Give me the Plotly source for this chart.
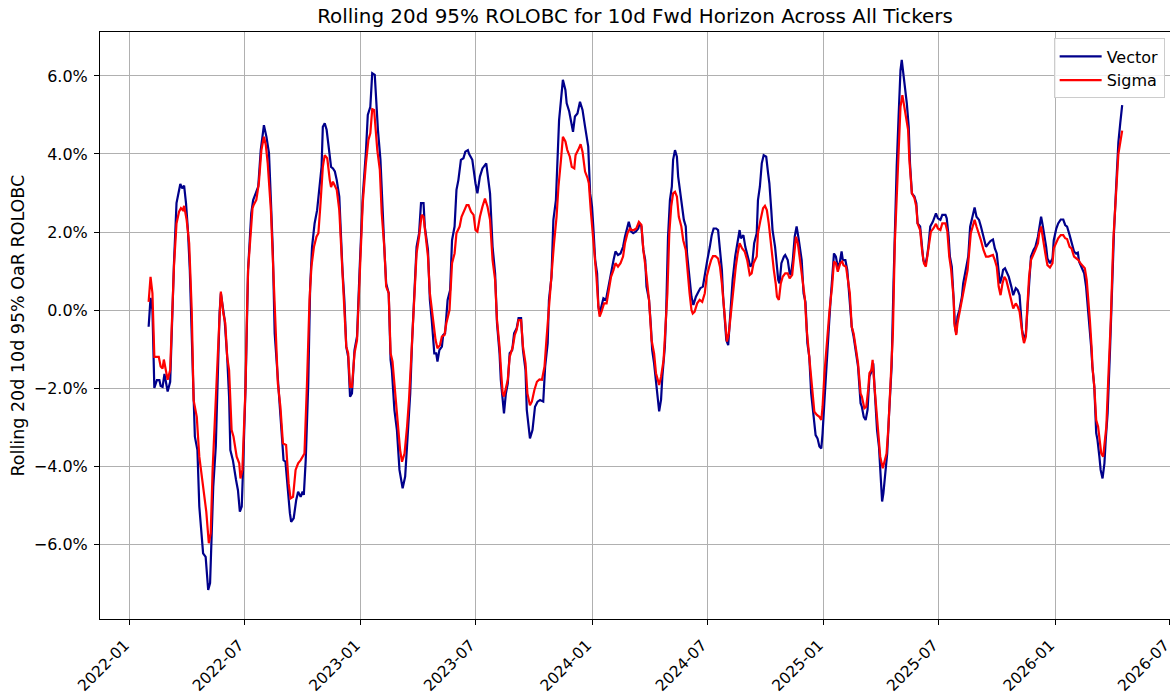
import pandas as pd
import plotly.graph_objects as go

# ---------------- data ----------------
base_date = "2022-01-01"  # day offsets below are counted from this date

vector_days = [
    30, 33, 36, 39, 43, 47, 49, 52, 55, 57,
    60, 64, 67, 70, 74, 78, 80, 83, 86, 89,
    92, 95, 98, 100, 103, 107, 110, 113, 116, 120,
    124, 127, 129, 132, 136, 139, 142, 144, 147, 150,
    154, 157, 159, 163, 168, 171, 174, 177, 179, 183,
    187, 192, 195, 199, 203, 207, 210, 212, 216, 220,
    223, 226, 229, 232, 236, 240, 243, 246, 250, 253,
    255, 259, 263, 266, 270, 273, 275, 278, 282, 285,
    288, 292, 296, 300, 303, 305, 308, 311, 315, 318,
    321, 324, 327, 331, 336, 339, 342, 345, 348, 351,
    355, 359, 363, 368, 373, 376, 380, 383, 387, 389,
    392, 396, 399, 402, 405, 409, 412, 414, 418, 422,
    426, 429, 431, 435, 439, 443, 446, 450, 453, 457,
    460, 464, 466, 471, 474, 477, 481, 484, 486, 489,
    493, 495, 498, 502, 506, 509, 513, 516, 519, 523,
    527, 530, 534, 536, 541, 546, 549, 553, 557, 563,
    566, 569, 573, 577, 580, 584, 586, 589, 591, 594,
    597, 600, 604, 607, 611, 614, 618, 621, 625, 627,
    630, 632, 636, 640, 644, 648, 653, 656, 660, 662,
    666, 669, 673, 676, 678, 681, 684, 688, 690, 694,
    697, 700, 703, 707, 711, 715, 719, 722, 724, 727,
    730, 732, 735, 738, 740, 742, 745, 748, 752, 755,
    758, 761, 764, 767, 771, 775, 779, 782, 785, 788,
    792, 795, 799, 803, 805, 808, 811, 814, 816, 820,
    823, 825, 828, 831, 834, 836, 839, 841, 845, 847,
    850, 853, 856, 858, 861, 864, 866, 869, 872, 875,
    878, 880, 883, 887, 890, 894, 898, 901, 905, 908,
    912, 916, 919, 922, 926, 929, 932, 935, 937, 940,
    942, 945, 947, 950, 952, 956, 959, 963, 965, 969,
    972, 976, 980, 983, 986, 990, 992, 995, 998, 1001,
    1005, 1008, 1010, 1013, 1015, 1019, 1021, 1024, 1026, 1029,
    1033, 1035, 1039, 1042, 1044, 1047, 1050, 1053, 1056, 1061,
    1064, 1067, 1070, 1073, 1076, 1080, 1083, 1086, 1089, 1092,
    1094, 1097, 1101, 1104, 1107, 1112, 1115, 1118, 1121, 1124,
    1126, 1130, 1133, 1136, 1140, 1143, 1147, 1150, 1154, 1156,
    1159, 1162, 1165, 1168, 1171, 1174, 1176, 1180, 1183, 1185,
    1188, 1190, 1193, 1196, 1199, 1203, 1206, 1209, 1211, 1214,
    1217, 1219, 1222, 1225, 1227, 1230, 1232, 1235, 1239, 1242,
    1244, 1248, 1251, 1253, 1256, 1259, 1261, 1264, 1268, 1271,
    1273, 1276, 1280, 1283, 1288, 1290, 1293, 1295, 1298, 1301,
    1303, 1305, 1307, 1310, 1314, 1316, 1319, 1322, 1324, 1327,
    1330, 1332, 1334, 1337, 1341, 1344, 1348, 1352, 1356, 1359,
    1363, 1366, 1369, 1372, 1374, 1377, 1379, 1382, 1385, 1388,
    1392, 1395, 1399, 1402, 1405, 1407, 1409, 1412, 1415, 1417,
    1420, 1423, 1427, 1430, 1434, 1436, 1439, 1441, 1444, 1447,
    1449, 1453, 1457, 1459, 1463, 1466, 1470, 1474, 1477, 1480,
    1484, 1487, 1491, 1494, 1497, 1499, 1503, 1507, 1510, 1512,
    1515, 1518, 1520, 1523, 1526, 1528, 1531, 1533, 1536, 1539,
    1541, 1544, 1548, 1551, 1554, 1558, 1561, 1564, 1567,
]
vector_vals = [
    -0.43, 0.31, 0.0, -2.0, -1.8, -1.8, -1.95, -1.97, -1.64, -1.87,
    -2.09, -1.84, 0.0, 1.2, 2.74, 3.08, 3.23, 3.12, 3.19, 2.74,
    2.05, 1.03, -0.34, -1.71, -3.25, -3.59, -5.04, -5.56, -6.24, -6.33,
    -7.18, -7.0, -5.98, -4.53, -3.5, -1.71, -0.08, 0.43, 0.0, -0.26,
    -1.2, -2.22, -3.59, -3.85, -4.36, -4.62, -5.17, -5.04, -4.1, -1.97,
    1.03, 2.48, 2.82, 2.99, 3.16, 4.1, 4.53, 4.74, 4.44, 4.02,
    2.82, 1.54, -0.6, -1.28, -2.31, -2.99, -3.85, -3.89, -4.7, -5.21,
    -5.43, -5.34, -4.87, -4.66, -4.79, -4.66, -4.74, -3.85, -1.88, 0.6,
    1.62, 2.22, 2.56, 3.16, 3.67, 4.7, 4.79, 4.62, 4.1, 3.67,
    3.63, 3.55, 3.33, 2.91, 1.03, 0.26, -0.94, -1.2, -2.22, -2.14,
    -1.03, -0.68, 1.0, 2.9, 4.05, 5.0, 5.21, 6.07, 6.03, 5.3,
    4.62, 3.85, 2.56, 1.62, 0.68, 0.43, -1.28, -1.54, -2.56, -3.08,
    -4.1, -4.36, -4.57, -4.27, -3.16, -2.14, -0.77, 0.43, 1.62, 1.97,
    2.74, 2.74, 2.14, 1.54, 0.26, -0.26, -1.11, -1.11, -1.32, -1.03,
    -0.94, -0.64, -0.6, 0.26, 0.51, 1.79, 2.14, 3.08, 3.33, 3.85,
    3.89, 4.06, 4.1, 4.0, 3.85, 3.25, 2.99, 3.42, 3.63, 3.76,
    3.33, 2.99, 1.62, 0.94, -0.34, -1.11, -1.79, -2.39, -2.65, -2.14,
    -1.88, -1.11, -1.03, -0.6, -0.47, -0.21, -0.21, -1.03, -1.54, -2.56,
    -3.08, -3.29, -3.08, -2.48, -2.35, -2.31, -2.35, -1.45, -0.85, 0.26,
    0.85, 2.31, 2.82, 3.85, 4.87, 5.38, 5.9, 5.64, 5.3, 5.09,
    4.79, 4.57, 4.96, 5.04, 5.34, 5.13, 4.7, 4.36, 4.19, 2.99,
    2.65, 2.14, 1.28, 0.94, 0.09, -0.09, 0.09, 0.3, 0.26, 0.51,
    0.77, 1.11, 1.28, 1.5, 1.41, 1.45, 1.62, 1.88, 2.05, 2.26,
    2.01, 1.97, 2.01, 2.09, 2.22, 2.14, 1.54, 1.28, 0.6, 0.26,
    -0.43, -1.03, -1.37, -1.88, -2.3, -2.6, -2.3, -1.71, -0.94, -0.09,
    1.88, 2.82, 3.16, 3.85, 4.1, 3.93, 3.42, 3.08, 2.65, 2.31,
    2.14, 1.45, 0.97, 0.34, 0.13, 0.34, 0.47, 0.56, 0.6, 0.85,
    1.28, 1.62, 1.92, 2.09, 2.09, 2.05, 1.62, 1.03, 0.34, -0.26,
    -0.77, -0.9, -0.43, 0.26, 0.77, 1.37, 1.71, 2.05, 1.84, 1.92,
    1.62, 1.37, 1.11, 1.2, 1.71, 1.97, 2.82, 3.16, 3.76, 3.97,
    3.93, 3.5, 3.25, 2.56, 2.05, 1.62, 1.2, 0.77, 0.68, 1.2,
    1.37, 1.41, 1.28, 0.94, 0.9, 1.28, 1.88, 2.14, 1.85, 1.28,
    0.43, 0.2, -0.85, -1.2, -2.14, -2.74, -3.21, -3.29, -3.5, -3.55,
    -3.16, -2.31, -1.37, -0.43, 0.34, 1.45, 1.37, 1.11, 1.2, 1.5,
    1.28, 1.28, 1.03, 0.43, -0.43, -0.68, -1.2, -1.45, -2.39, -2.48,
    -2.74, -2.82, -2.56, -1.71, -1.58, -1.37, -1.97, -3.08, -3.5, -4.19,
    -4.91, -4.7, -4.27, -3.68, -2.65, -1.45, 0.68, 2.82, 3.67, 4.96,
    6.15, 6.41, 5.98, 5.64, 5.3, 4.7, 3.76, 2.99, 2.91, 2.74,
    2.22, 2.14, 1.54, 1.28, 1.15, 1.37, 1.62, 2.14, 2.26, 2.39,
    2.48, 2.35, 2.31, 2.44, 2.44, 2.35, 1.88, 1.37, 1.11, 0.26,
    -0.43, -0.6, -0.17, 0.0, 0.34, 0.68, 0.94, 1.2, 1.37, 2.14,
    2.39, 2.48, 2.63, 2.39, 2.31, 2.14, 1.88, 1.62, 1.71, 1.77,
    1.81, 1.58, 1.45, 0.94, 0.68, 0.85, 1.03, 1.07, 0.98, 0.85,
    0.6, 0.38, 0.56, 0.51, 0.38, 0.0, -0.51, -0.77, -0.6, -0.09,
    0.77, 1.37, 1.54, 1.62, 1.88, 2.14, 2.39, 2.22, 1.97, 1.62,
    1.32, 1.2, 1.32, 1.79, 2.09, 2.22, 2.32, 2.32, 2.18, 2.14,
    1.92, 1.75, 1.5, 1.45, 1.47, 1.24, 1.07, 0.94, 0.6, 0.26,
    -0.26, -0.94, -1.45, -1.97, -3.16, -3.33, -3.76, -4.1, -4.32, -3.93,
    -3.33, -2.65, -0.94, 0.77, 1.97, 3.33, 4.3, 4.8, 5.25,
]

sigma_days = [
    30, 33, 36, 39, 43, 46, 49, 52, 54, 57,
    60, 64, 67, 70, 74, 78, 81, 84, 86, 90,
    94, 98, 101, 106, 110, 114, 119, 121, 125, 128,
    131, 134, 138, 141, 144, 148, 151, 154, 157, 161,
    164, 169, 173, 175, 178, 183, 185, 187, 194, 196,
    200, 204, 208, 212, 215, 218, 223, 226, 231, 234,
    238, 242, 247, 251, 254, 258, 262, 266, 270, 273,
    276, 280, 284, 287, 291, 295, 298, 301, 305, 308,
    312, 316, 318, 321, 324, 327, 331, 336, 339, 342,
    345, 348, 351, 355, 359, 363, 368, 373, 377, 380,
    383, 386, 388, 391, 395, 398, 402, 405, 409, 412,
    415, 420, 423, 427, 430, 434, 438, 441, 446, 449,
    453, 457, 461, 464, 467, 471, 474, 478, 483, 486,
    490, 493, 497, 500, 505, 509, 513, 516, 521, 524,
    528, 532, 535, 539, 543, 546, 549, 553, 557, 561,
    565, 569, 573, 577, 580, 584, 587, 589, 591, 594,
    597, 600, 605, 608, 611, 614, 618, 621, 625, 628,
    632, 635, 639, 643, 647, 651, 655, 658, 662, 666,
    670, 674, 677, 681, 684, 688, 691, 695, 698, 702,
    704, 708, 712, 715, 719, 723, 725, 728, 731, 734,
    737, 740, 742, 745, 749, 753, 756, 760, 764, 767,
    771, 775, 779, 782, 786, 790, 793, 796, 800, 804,
    808, 811, 815, 818, 820, 824, 828, 831, 836, 839,
    843, 846, 849, 852, 855, 858, 861, 864, 867, 871,
    874, 878, 881, 884, 887, 889, 892, 896, 900, 904,
    908, 911, 915, 918, 921, 925, 929, 932, 935, 938,
    941, 943, 946, 950, 953, 957, 960, 963, 967, 971,
    975, 979, 982, 985, 990, 992, 996, 1000, 1003, 1006,
    1009, 1012, 1014, 1017, 1020, 1022, 1025, 1028, 1031, 1035,
    1039, 1042, 1046, 1049, 1052, 1055, 1059, 1063, 1066, 1069,
    1071, 1073, 1077, 1081, 1085, 1089, 1092, 1094, 1097, 1101,
    1105, 1109, 1112, 1115, 1118, 1122, 1125, 1127, 1131, 1134,
    1137, 1140, 1143, 1147, 1150, 1154, 1156, 1160, 1163, 1166,
    1168, 1171, 1173, 1176, 1180, 1183, 1185, 1189, 1192, 1195,
    1198, 1203, 1205, 1208, 1211, 1214, 1217, 1220, 1223, 1226,
    1229, 1231, 1235, 1239, 1242, 1244, 1248, 1251, 1254, 1257,
    1259, 1262, 1265, 1269, 1273, 1276, 1280, 1283, 1288, 1291,
    1294, 1297, 1301, 1302, 1305, 1307, 1310, 1314, 1317, 1320,
    1323, 1325, 1328, 1331, 1334, 1337, 1341, 1344, 1348, 1352,
    1356, 1359, 1363, 1366, 1369, 1372, 1375, 1378, 1381, 1384,
    1386, 1389, 1392, 1395, 1399, 1402, 1405, 1407, 1410, 1412,
    1415, 1417, 1420, 1423, 1427, 1430, 1434, 1436, 1439, 1441,
    1444, 1447, 1449, 1453, 1457, 1459, 1463, 1466, 1470, 1474,
    1477, 1480, 1484, 1487, 1491, 1494, 1498, 1501, 1504, 1508,
    1511, 1513, 1516, 1519, 1520, 1523, 1526, 1529, 1532, 1534,
    1537, 1540, 1542, 1545, 1549, 1553, 1558, 1561, 1564, 1567,
]
sigma_vals = [
    0.21, 0.85, 0.43, -1.2, -1.2, -1.2, -1.45, -1.5, -1.27, -1.54,
    -1.79, -1.54, 0.0, 1.13, 2.22, 2.52, 2.61, 2.56, 2.67, 2.31,
    1.71, 0.0, -2.31, -2.74, -3.76, -4.27, -5.04, -5.17, -5.98, -5.73,
    -4.1, -2.9, -1.54, -0.51, 0.47, -0.09, -0.34, -1.2, -1.54, -3.08,
    -3.25, -3.76, -3.93, -4.32, -4.1, -1.97, -0.26, 1.03, 2.61, 2.7,
    2.82, 3.25, 4.1, 4.44, 4.23, 3.76, 2.56, 1.28, -0.77, -1.88,
    -2.48, -3.42, -3.46, -4.44, -4.83, -4.79, -4.1, -3.93, -3.85, -3.76,
    -3.68, -1.88, 0.26, 1.11, 1.62, 1.88, 1.97, 2.65, 3.67, 3.97,
    3.89, 3.33, 3.15, 3.29, 3.2, 3.08, 2.56, 0.94, 0.26, -0.94,
    -1.11, -1.97, -1.97, -1.11, -0.77, 0.94, 2.74, 3.76, 4.36, 4.53,
    5.15, 5.13, 4.7, 4.1, 3.59, 2.48, 1.62, 0.6, 0.43, -1.11,
    -1.32, -2.31, -2.82, -3.59, -3.89, -3.68, -2.99, -2.31, -0.77, 0.26,
    1.45, 1.88, 2.44, 2.39, 1.88, 1.37, 0.43, -0.09, -0.77, -0.98,
    -0.9, -0.68, -0.64, -0.34, 0.0, 1.2, 1.45, 1.97, 2.14, 2.39,
    2.52, 2.69, 2.69, 2.52, 2.44, 2.05, 2.01, 2.39, 2.65, 2.86,
    2.65, 2.31, 1.28, 0.77, -0.26, -0.94, -1.71, -2.14, -2.22, -1.97,
    -1.79, -1.2, -0.94, -0.64, -0.51, -0.26, -0.26, -0.94, -1.37, -2.14,
    -2.44, -2.35, -2.05, -1.84, -1.78, -1.79, -1.45, -0.77, 0.09, 0.85,
    1.71, 2.39, 3.16, 3.85, 4.44, 4.32, 4.1, 3.93, 3.67, 3.63,
    3.97, 4.1, 4.25, 4.06, 3.55, 3.38, 3.25, 2.56, 1.97, 1.54,
    0.85, 0.09, -0.17, -0.04, 0.17, 0.17, 0.43, 0.85, 1.03, 1.2,
    1.11, 1.2, 1.37, 1.71, 1.97, 2.09, 2.05, 2.05, 2.09, 2.26,
    2.18, 1.54, 1.03, 0.6, 0.26, -0.77, -1.11, -1.62, -1.92, -1.71,
    -1.28, -0.43, 0.43, 1.97, 2.65, 2.99, 3.03, 2.91, 2.39, 2.14,
    1.79, 1.54, 0.85, 0.43, 0.0, -0.09, -0.04, 0.17, 0.26, 0.21,
    0.43, 0.85, 1.11, 1.28, 1.38, 1.38, 1.32, 1.11, 0.68, 0.17,
    -0.34, -0.81, -0.6, 0.09, 0.6, 1.11, 1.45, 1.71, 1.58, 1.5,
    1.28, 0.9, 0.94, 1.2, 1.37, 1.97, 2.31, 2.61, 2.67, 2.56,
    2.22, 1.71, 1.45, 1.03, 0.68, 0.34, 0.26, 0.68, 0.85, 0.94,
    0.94, 0.81, 0.9, 1.45, 1.88, 1.71, 1.2, 0.68, 0.3, -0.51,
    -0.85, -1.2, -2.05, -2.61, -2.69, -2.74, -2.82, -2.48, -1.62, -0.77,
    0.0, 0.6, 1.24, 1.2, 0.98, 1.2, 1.24, 1.15, 1.11, 0.77,
    0.43, -0.43, -0.6, -1.03, -1.37, -2.14, -2.22, -2.52, -2.48, -2.05,
    -1.62, -1.54, -1.28, -1.97, -2.82, -3.33, -3.76, -4.06, -3.85, -3.68,
    -2.99, -1.45, -0.6, 1.7, 2.82, 4.1, 5.21, 5.51, 5.21, 4.96,
    4.62, 3.85, 2.99, 2.87, 2.65, 2.22, 2.05, 1.54, 1.2, 1.11,
    1.37, 1.71, 2.01, 2.09, 2.21, 2.09, 2.05, 2.22, 2.22, 2.01,
    1.37, 1.03, 0.26, -0.34, -0.64, -0.34, -0.09, 0.17, 0.51, 0.77,
    1.03, 1.37, 1.97, 2.14, 2.31, 2.14, 1.97, 1.79, 1.54, 1.37,
    1.37, 1.39, 1.41, 1.28, 1.11, 0.6, 0.38, 0.68, 0.85, 0.77,
    0.64, 0.43, 0.17, 0.04, 0.17, 0.09, -0.04, -0.34, -0.68, -0.85,
    -0.68, 0.0, 0.85, 1.28, 1.41, 1.54, 1.71, 1.97, 2.14, 1.97,
    1.62, 1.32, 1.15, 1.09, 1.2, 1.58, 1.75, 1.84, 1.92, 1.92,
    1.84, 1.82, 1.62, 1.58, 1.37, 1.32, 1.28, 1.2, 1.15, 1.07,
    0.77, 0.43, -0.26, -1.03, -1.45, -1.97, -2.82, -2.99, -3.33, -3.68,
    -3.76, -3.16, -2.99, -1.79, -0.26, 1.79, 3.33, 4.0, 4.3, 4.6,
]

series_names = ["Vector", "Sigma"]
y_tick_values = [-6, -4, -2, 0, 2, 4, 6]
x_tick_labels = ["2022-01", "2022-07", "2023-01", "2023-07", "2024-01",
                 "2024-07", "2025-01", "2025-07", "2026-01", "2026-07"]

assert len(vector_days) == len(vector_vals), (len(vector_days), len(vector_vals))
assert len(sigma_days) == len(sigma_vals), (len(sigma_days), len(sigma_vals))

# ---------------- figure ----------------
base = pd.Timestamp(base_date)
vector_dates = base + pd.to_timedelta(vector_days, unit="D")
sigma_dates = base + pd.to_timedelta(sigma_days, unit="D")
x_tick_dates = [pd.Timestamp(t + "-01") for t in x_tick_labels]
y_tick_text = [("\u2212" if v < 0 else "") + f"{abs(v):.1f}%" for v in y_tick_values]

FONT = "DejaVu Sans"

fig = go.Figure()
fig.add_trace(go.Scatter(x=vector_dates, y=vector_vals, mode="lines",
                         name=series_names[0],
                         line=dict(color="#00008B", width=2.2)))
fig.add_trace(go.Scatter(x=sigma_dates, y=sigma_vals, mode="lines",
                         name=series_names[1],
                         line=dict(color="#FF0000", width=2.2)))

fig.update_layout(
    width=1170, height=696,
    margin=dict(l=100, r=0, t=32, b=77),
    paper_bgcolor="white", plot_bgcolor="white",
    font=dict(family=FONT, size=16, color="black"),
    title=dict(text="Rolling 20d 95% ROLOBC for 10d Fwd Horizon Across All Tickers",
               x=0.5, xref="paper", xanchor="center",
               y=1 - 16 / 696, yref="container", yanchor="middle",
               font=dict(family=FONT, size=19.9, color="black")),
    legend=dict(x=0.995, y=0.989, xanchor="right", yanchor="top",
                bgcolor="rgba(255,255,255,0.8)", bordercolor="#cccccc",
                borderwidth=1, itemwidth=42,
                font=dict(family=FONT, size=16)),
    showlegend=True,
    annotations=[dict(text="Rolling 20d 10d 95% OaR ROLOBC",
                      xref="paper", yref="paper",
                      x=-83 / 1070, y=0.5, xanchor="center", yanchor="middle",
                      textangle=-90, showarrow=False,
                      font=dict(family=FONT, size=17.5, color="black"))],
)

fig.update_xaxes(
    type="date", automargin=False,
    range=["2021-11-15 05:00", "2026-07-01 12:00"],
    tickmode="array", tickvals=x_tick_dates, ticktext=x_tick_labels,
    tickangle=-45, ticks="outside", ticklen=5, tickwidth=1, tickcolor="black",
    ticklabelstandoff=5, ticklabelshift=-5, ticklabeloverflow="allow",
    tickfont=dict(family=FONT, size=15.5, color="black"),
    showgrid=True, gridcolor="#b0b0b0", gridwidth=1,
    showline=True, linecolor="black", linewidth=1, mirror=True,
    zeroline=False,
)
fig.update_yaxes(
    automargin=False,
    range=[-7.923, 7.128],
    tickmode="array", tickvals=y_tick_values, ticktext=y_tick_text,
    ticks="outside", ticklen=5, tickwidth=1, tickcolor="black",
    ticklabelstandoff=3,
    tickfont=dict(family=FONT, size=16, color="black"),
    showgrid=True, gridcolor="#b0b0b0", gridwidth=1,
    showline=True, linecolor="black", linewidth=1, mirror=False,
    zeroline=False,
)

fig.write_html(
    "out.html",
    config={"displayModeBar": False},
    post_script="document.body.style.margin='0';document.body.style.padding='0';"
                "document.documentElement.style.overflow='hidden';",
)
